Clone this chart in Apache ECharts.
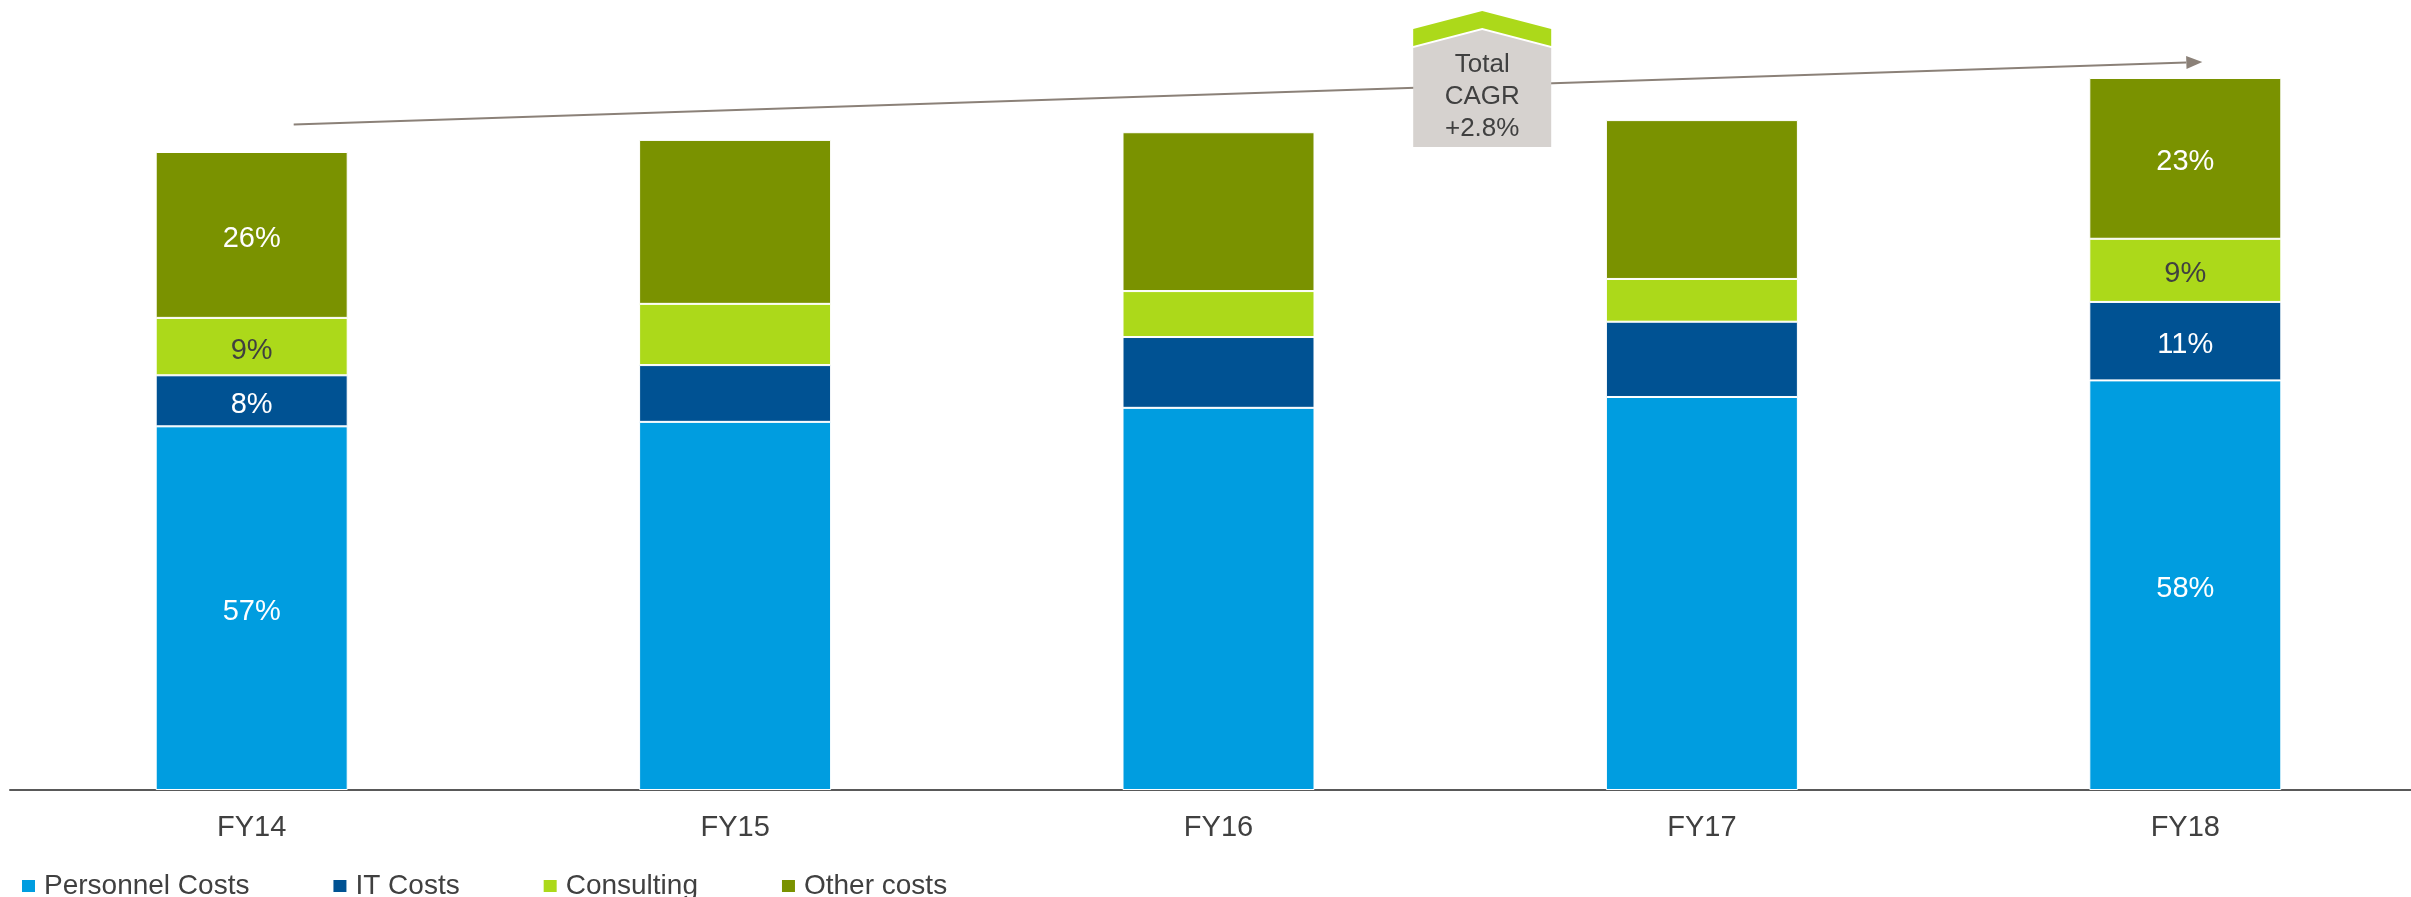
<!DOCTYPE html>
<html>
<head>
<meta charset="utf-8">
<script src="https://cdn.jsdelivr.net/npm/echarts@6/dist/echarts.min.js"></script>
<style>
  html, body { margin: 0; padding: 0; background: #ffffff; }
  #chart { width: 2411px; height: 897px; }
</style>
</head>
<body>
<div id="chart"></div>
<script>
// Cost base by fiscal year (index, FY14 total = 100)
const years = ['FY14', 'FY15', 'FY16', 'FY17', 'FY18'];
const personnel  = [57.0, 57.7, 59.9, 61.6, 64.2];
const itCosts    = [8.0, 8.9, 11.1, 11.8, 12.3];
const consulting = [9.0, 9.6, 7.2, 6.7, 9.9];
const otherCosts = [26.0, 25.7, 24.9, 24.9, 25.2];
const seriesNames = ['Personnel Costs', 'IT Costs', 'Consulting', 'Other costs'];
// Years whose segment shares are printed on the bars
const labelledYears = ['FY14', 'FY18'];

const FONT = '"Liberation Sans", Arial, Helvetica, sans-serif';
const TEXT = '#404040';
const colors = ['#009de0', '#005293', '#acd91a', '#7a9200'];
const labelColors = ['#ffffff', '#ffffff', TEXT, '#ffffff'];
const values = [personnel, itCosts, consulting, otherCosts];

const totals = years.map((_, i) => values.reduce((s, arr) => s + arr[i], 0));
const cagr = (Math.pow(totals[totals.length - 1] / totals[0], 1 / (years.length - 1)) - 1) * 100;

const chart = echarts.init(document.getElementById('chart'), null, { renderer: 'canvas' });

const series = seriesNames.map((name, k) => ({
  name,
  type: 'bar',
  stack: 'cost',
  barWidth: 192,
  itemStyle: { color: colors[k], borderColor: '#ffffff', borderWidth: 1 },
  label: {
    show: true,
    position: 'inside',
    offset: [0, 4],
    fontFamily: FONT,
    fontSize: 29,
    color: labelColors[k],
    formatter: p => labelledYears.includes(p.name)
      ? Math.round(p.value / totals[p.dataIndex] * 100) + '%'
      : ''
  },
  emphasis: { disabled: true },
  data: values[k]
}));

chart.setOption({
  animation: false,
  backgroundColor: '#ffffff',
  textStyle: { fontFamily: FONT },
  // plot runs slightly past the right edge so the baseline reaches the border
  grid: {
    left: 10, width: 2417, top: 24.4, bottom: 107,
    containLabel: false, outerBoundsMode: 'none'
  },
  legend: {
    data: seriesNames,
    left: 20,
    top: 872,
    padding: 0,
    itemGap: 82,
    itemWidth: 15,
    itemHeight: 14,
    icon: 'rect',
    selectedMode: false,
    textStyle: { fontFamily: FONT, fontSize: 28, color: TEXT, lineHeight: 28, padding: [0, 0, 0, 3] }
  },
  xAxis: {
    type: 'category',
    data: years,
    axisLine: { lineStyle: { color: '#595959', width: 2 } },
    axisTick: { show: false },
    axisLabel: { fontFamily: FONT, fontSize: 29, color: TEXT, margin: 23 }
  },
  yAxis: {
    type: 'value',
    min: 0,
    max: 120,
    show: false,
    splitLine: { show: false }
  },
  series
});

// Growth arrow from FY14 to FY18 and the CAGR callout
(function drawCallout() {
  const px = (cat, v) => chart.convertToPixel({ gridIndex: 0 }, [cat, v]);
  const start = px(0, totals[0] + 4.3);
  const end = px(years.length - 1, totals[totals.length - 1] + 2.5);
  start[0] += 42;
  end[0] += 17;

  const ang = Math.atan2(end[1] - start[1], end[0] - start[0]);
  const headLen = 16, headHalf = 6.5;
  const baseX = end[0] - headLen * Math.cos(ang);
  const baseY = end[1] - headLen * Math.sin(ang);
  const head = [
    [end[0], end[1]],
    [baseX + headHalf * Math.sin(ang), baseY - headHalf * Math.cos(ang)],
    [baseX - headHalf * Math.sin(ang), baseY + headHalf * Math.cos(ang)]
  ];

  const cx = (px(2, 0)[0] + px(3, 0)[0]) / 2 + 22;
  const boxTop = 11, hw = 69;

  chart.setOption({
    graphic: [
      {
        type: 'line', z: 10, silent: true,
        shape: { x1: start[0], y1: start[1], x2: baseX, y2: baseY },
        style: { stroke: '#8b8178', lineWidth: 2 }
      },
      {
        type: 'polygon', z: 10, silent: true,
        shape: { points: head },
        style: { fill: '#8b8178' }
      },
      {
        type: 'polygon', z: 20, silent: true,
        shape: { points: [
          [cx - hw, boxTop + 37], [cx, boxTop + 19], [cx + hw, boxTop + 37],
          [cx + hw, boxTop + 136], [cx - hw, boxTop + 136]
        ] },
        style: { fill: '#d6d2cf' }
      },
      {
        type: 'polygon', z: 20, silent: true,
        shape: { points: [
          [cx - hw, boxTop + 18], [cx, boxTop], [cx + hw, boxTop + 18],
          [cx + hw, boxTop + 35], [cx, boxTop + 17], [cx - hw, boxTop + 35]
        ] },
        style: { fill: '#acd91a' }
      },
      {
        type: 'text', z: 21, silent: true,
        x: cx, y: boxTop + 86,
        style: {
          text: 'Total\nCAGR\n+' + cagr.toFixed(1) + '%',
          fill: TEXT,
          fontFamily: FONT,
          fontSize: 26,
          lineHeight: 32,
          align: 'center',
          verticalAlign: 'middle'
        }
      }
    ]
  });
})();
</script>
</body>
</html>
